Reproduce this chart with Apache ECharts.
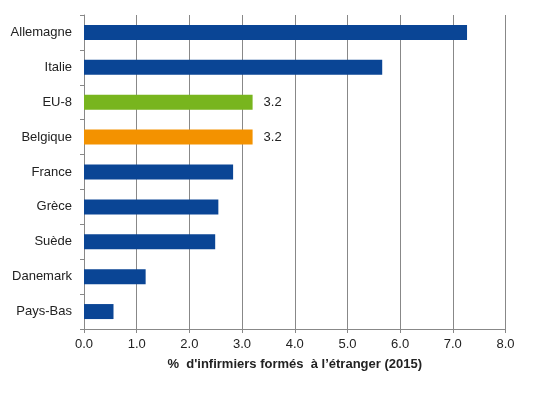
<!DOCTYPE html>
<html><head><meta charset="utf-8">
<script src="https://cdn.jsdelivr.net/npm/echarts@6/dist/echarts.min.js"></script>
<style>html,body{margin:0;padding:0;background:#fff}#c{width:543px;height:397px}</style>
</head><body><div id="c"></div>
<script>
const categories = ["Allemagne","Italie","EU-8","Belgique","France","Grèce","Suède","Danemark","Pays-Bas"];
const values = [7.27, 5.66, 3.2, 3.2, 2.83, 2.55, 2.49, 1.17, 0.56];
const labelled = ["EU-8","Belgique"];
const xTicks = [0,1,2,3,4,5,6,7,8];
const axisTitle = "%  d'infirmiers formés  à l’étranger (2015)";
const colorMap = {"EU-8":"#78B51E","Belgique":"#F39200"};
const baseColor = "#0A4595";

const chart = echarts.init(document.getElementById('c'), null, {renderer:'canvas'});
chart.setOption({
  animation:false,
  grid:{left:84,right:37.5,top:15,bottom:68,containLabel:false},
  xAxis:{
    type:'value',min:xTicks[0],max:xTicks[xTicks.length-1],interval:1,
    axisLine:{show:true,lineStyle:{color:'#888',width:1}},
    axisTick:{show:true,length:4,lineStyle:{color:'#888'}},
    splitLine:{show:true,lineStyle:{color:'#888',width:1}},
    axisLabel:{formatter:v=>v.toFixed(1),color:'#222',fontFamily:'Liberation Sans',fontSize:13,margin:9},
    name:axisTitle,nameLocation:'middle',nameGap:29,
    nameTextStyle:{fontFamily:'Liberation Sans',fontSize:13,fontWeight:'bold',color:'#222'}
  },
  yAxis:{
    type:'category',data:categories,inverse:true,
    axisLine:{show:true,lineStyle:{color:'#888',width:1}},
    axisTick:{show:true,length:4,lineStyle:{color:'#888'}},
    axisLabel:{color:'#222',fontFamily:'Liberation Sans',fontSize:13,margin:12}
  },
  series:[{
    type:'bar',barWidth:15,
    data:categories.map((c,i)=>({
      value:values[i],
      itemStyle:{color:colorMap[c]||baseColor},
      label:{show:labelled.includes(c),position:'right',distance:11,formatter:p=>p.value.toFixed(1),
        color:'#222',fontFamily:'Liberation Sans',fontSize:13}
    }))
  }]
});
</script></body></html>
